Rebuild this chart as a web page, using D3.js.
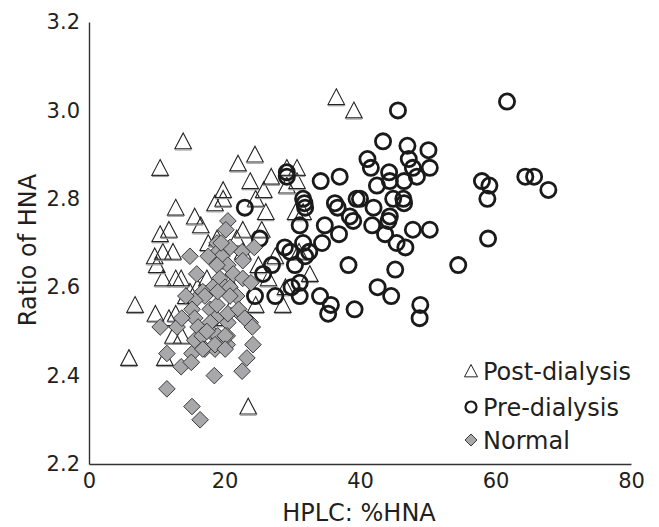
<!DOCTYPE html>
<html>
<head>
<meta charset="utf-8">
<script src="https://cdn.jsdelivr.net/npm/d3@7"></script>
<style>
  body { margin: 0; background: #fff; }
  svg text { font-family: "DejaVu Sans", Verdana, sans-serif; fill: #231f20; }
</style>
</head>
<body>
<svg id="chart" width="659" height="527"></svg>
<script>
// Post-dialysis samples: HPLC %HNA vs ratio of HNA
const postHNA = [5.9, 6.8, 10.5, 13.9, 36.5, 39.1, 23.5, 22.0, 24.5, 23.8, 26.9, 19.8, 19.8, 25.8, 24.6, 29.2, 30.7, 29.2, 30.7, 12.8, 15.6, 16.5, 11.8, 10.5, 26.1, 22.7, 25.5, 18.9, 10.9, 12.4, 9.7, 10.0, 10.9, 12.8, 13.6, 17.6, 9.8, 12.8, 11.8, 14.3, 18.9, 12.4, 13.7, 11.2, 24.6, 28.6, 31.6, 32.6, 18.6, 21.8, 22.7, 17.4, 14.9, 26.5, 27.5, 29.0, 31.0, 25.0, 20.5, 21.5, 16.0, 19.5, 30.5];
const postRatio = [2.44, 2.56, 2.87, 2.93, 3.03, 3.00, 2.33, 2.88, 2.90, 2.84, 2.85, 2.82, 2.80, 2.82, 2.80, 2.87, 2.87, 2.83, 2.84, 2.78, 2.76, 2.74, 2.73, 2.72, 2.77, 2.73, 2.73, 2.71, 2.68, 2.68, 2.67, 2.65, 2.62, 2.62, 2.62, 2.70, 2.54, 2.54, 2.53, 2.58, 2.53, 2.49, 2.49, 2.44, 2.56, 2.56, 2.77, 2.63, 2.79, 2.71, 2.68, 2.62, 2.59, 2.62, 2.67, 2.60, 2.68, 2.65, 2.62, 2.57, 2.60, 2.66, 2.77];

// Pre-dialysis samples
const preHNA = [45.6, 43.4, 47.0, 47.2, 50.1, 41.1, 41.6, 47.8, 50.3, 44.3, 46.5, 48.4, 42.5, 44.4, 37.0, 34.2, 29.2, 29.2, 39.5, 40.0, 42.0, 44.9, 46.4, 46.5, 36.7, 31.6, 31.9, 31.8, 38.5, 39.0, 41.8, 44.2, 44.4, 47.8, 50.3, 34.8, 31.1, 36.9, 43.7, 45.4, 46.7, 31.6, 34.4, 25.2, 28.9, 29.7, 32.5, 31.9, 30.4, 27.0, 25.7, 38.3, 45.2, 54.5, 31.1, 29.9, 27.5, 24.5, 31.1, 34.1, 35.7, 35.3, 39.2, 42.6, 44.6, 48.9, 48.8, 61.7, 58.0, 59.1, 58.8, 64.4, 65.7, 67.8, 58.9, 23.0, 36.3];
const preRatio = [3.00, 2.93, 2.92, 2.89, 2.91, 2.89, 2.87, 2.87, 2.87, 2.86, 2.84, 2.85, 2.83, 2.84, 2.85, 2.84, 2.86, 2.85, 2.80, 2.80, 2.78, 2.80, 2.80, 2.79, 2.78, 2.80, 2.78, 2.79, 2.76, 2.75, 2.74, 2.75, 2.76, 2.73, 2.73, 2.74, 2.74, 2.72, 2.72, 2.70, 2.69, 2.70, 2.70, 2.71, 2.69, 2.68, 2.68, 2.67, 2.65, 2.65, 2.63, 2.65, 2.64, 2.65, 2.61, 2.60, 2.58, 2.58, 2.58, 2.58, 2.56, 2.54, 2.55, 2.60, 2.58, 2.56, 2.53, 3.02, 2.84, 2.83, 2.80, 2.85, 2.85, 2.82, 2.71, 2.78, 2.79];

// Normal samples
const normalHNA = [20.5, 20.2, 18.9, 20.8, 19.0, 19.6, 22.6, 24.4, 22.7, 20.5, 18.9, 21.3, 22.7, 23.9, 19.3, 20.1, 18.3, 14.9, 17.6, 15.9, 16.8, 20.8, 21.8, 17.1, 15.6, 17.9, 15.2, 10.5, 13.0, 15.6, 18.7, 16.1, 20.5, 23.8, 24.2, 11.5, 15.2, 13.6, 15.1, 17.1, 18.6, 20.4, 20.4, 18.5, 22.6, 23.3, 11.5, 15.2, 16.4, 15.6, 16.7, 17.9, 19.0, 22.3, 20.5, 18.9, 22.1, 23.0, 24.1, 20.1, 17.9, 18.6, 20.8, 19.0, 17.4, 16.8, 20.1, 19.5, 13.7, 14.3];
const normalRatio = [2.75, 2.73, 2.70, 2.69, 2.68, 2.67, 2.68, 2.69, 2.66, 2.65, 2.65, 2.63, 2.62, 2.61, 2.62, 2.60, 2.60, 2.67, 2.67, 2.63, 2.59, 2.60, 2.58, 2.58, 2.57, 2.55, 2.55, 2.51, 2.51, 2.53, 2.53, 2.51, 2.52, 2.52, 2.47, 2.45, 2.45, 2.42, 2.43, 2.46, 2.46, 2.47, 2.49, 2.40, 2.41, 2.44, 2.37, 2.33, 2.30, 2.48, 2.49, 2.50, 2.49, 2.54, 2.54, 2.56, 2.55, 2.53, 2.51, 2.49, 2.52, 2.47, 2.58, 2.59, 2.50, 2.46, 2.46, 2.70, 2.53, 2.58];

const xTicks = [0, 20, 40, 60, 80];
const yTicks = [2.2, 2.4, 2.6, 2.8, 3.0, 3.2];
const seriesNames = ["Post-dialysis", "Pre-dialysis", "Normal"];

const svg = d3.select("#chart");
const plotLeft = 89, plotRight = 631, plotTop = 22, plotBottom = 464;

const x = d3.scaleLinear().domain([0, 80]).range([plotLeft, plotRight]);
const y = d3.scaleLinear().domain([2.2, 3.2]).range([plotBottom, plotTop]);

// Axes: plain lines with labels, no tick marks
const xAxis = d3.axisBottom(x).tickValues(xTicks).tickSize(0).tickPadding(9).tickFormat(d3.format("d"));
const yAxis = d3.axisLeft(y).tickValues(yTicks).tickSize(0).tickPadding(9).tickFormat(d3.format(".1f"));

const gx = svg.append("g").attr("transform", `translate(0,${plotBottom})`).call(xAxis);
const gy = svg.append("g").attr("transform", `translate(${plotLeft},0)`).call(yAxis);
[gx, gy].forEach(g => {
  g.select(".domain").attr("stroke", "#333").attr("stroke-width", 1.4);
  g.selectAll("text").attr("font-size", 21).attr("fill", "#231f20")
    .style("font-family", '"DejaVu Sans", Verdana, sans-serif');
});

svg.append("text")
  .attr("x", 359).attr("y", 521)
  .attr("text-anchor", "middle").attr("font-size", 24)
  .text("HPLC: %HNA");

svg.append("text")
  .attr("transform", "translate(36,250) rotate(-90)")
  .attr("text-anchor", "middle").attr("font-size", 24)
  .text("Ratio of HNA");

// Marker shapes
const triPath = s => `M0,${-s}L${s},${s * 0.9}L${-s},${s * 0.9}Z`;
const diaPath = s => `M0,${-s}L${s},0L0,${s}L${-s},0Z`;

const post = postHNA.map((v, i) => [v, postRatio[i]]);
const pre = preHNA.map((v, i) => [v, preRatio[i]]);
const normal = normalHNA.map((v, i) => [v, normalRatio[i]]);

const gPost = svg.append("g");
gPost.selectAll("path.tri").data(post).join("path")
  .attr("class", "tri")
  .attr("transform", d => `translate(${x(d[0])},${y(d[1])})`)
  .attr("d", triPath(8.3))
  .attr("fill", "none").attr("stroke", "#222").attr("stroke-width", 1.1);
gPost.selectAll("line.base").data(post).join("line")
  .attr("class", "base")
  .attr("x1", d => x(d[0]) - 8.3).attr("x2", d => x(d[0]) + 8.3)
  .attr("y1", d => y(d[1]) + 8.6).attr("y2", d => y(d[1]) + 8.6)
  .attr("stroke", "#999").attr("stroke-width", 1.2);

svg.append("g").selectAll("circle").data(pre).join("circle")
  .attr("cx", d => x(d[0])).attr("cy", d => y(d[1])).attr("r", 7.6)
  .attr("fill", "none").attr("stroke", "#1a1a1a").attr("stroke-width", 2.8);

svg.append("g").selectAll("path").data(normal).join("path")
  .attr("transform", d => `translate(${x(d[0])},${y(d[1])})`)
  .attr("d", diaPath(8.3))
  .attr("fill", "#a8a8aa").attr("stroke", "#3a3a3a").attr("stroke-width", 1);

// Legend
const legend = svg.append("g").attr("transform", "translate(471,0)");
const rows = [371, 407, 440];
legend.append("path").attr("transform", `translate(0,${rows[0]})`).attr("d", triPath(6.5))
  .attr("fill", "none").attr("stroke", "#222").attr("stroke-width", 1);
legend.append("circle").attr("cx", 0).attr("cy", rows[1]).attr("r", 5.5)
  .attr("fill", "none").attr("stroke", "#1a1a1a").attr("stroke-width", 2.2);
legend.append("path").attr("transform", `translate(0,${rows[2]})`).attr("d", diaPath(6))
  .attr("fill", "#a8a8aa").attr("stroke", "#3a3a3a").attr("stroke-width", 1);
legend.selectAll("text").data(seriesNames).join("text")
  .attr("x", 12).attr("y", (d, i) => rows[i]).attr("dy", "0.36em")
  .attr("font-size", 24)
  .text(d => d);
</script>
</body>
</html>
